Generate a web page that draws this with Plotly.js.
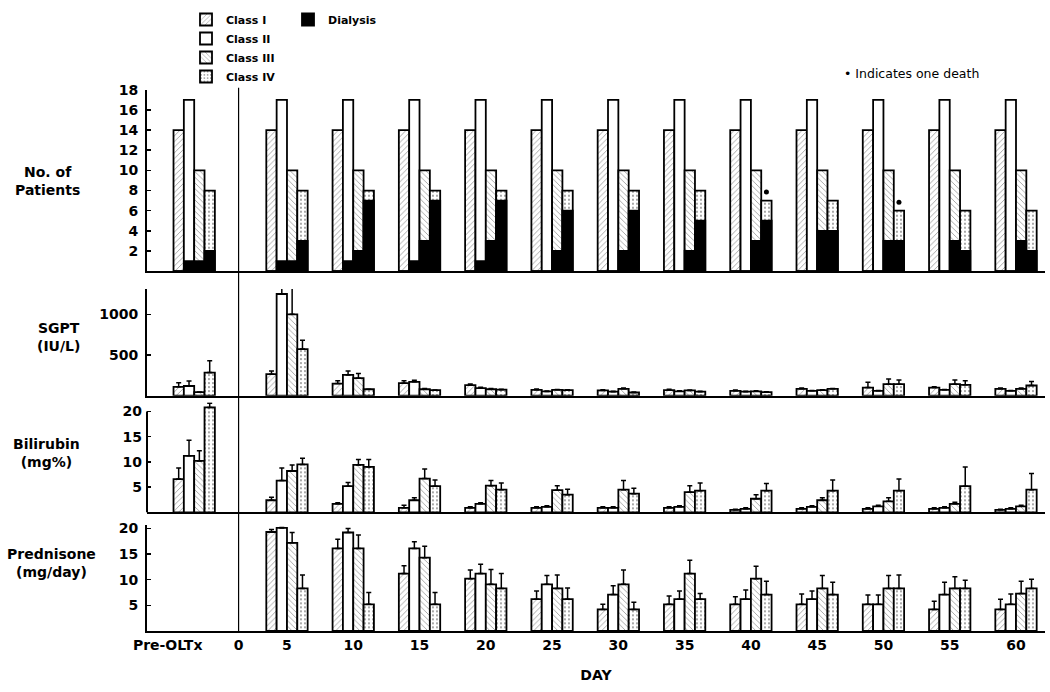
<!DOCTYPE html>
<html><head><meta charset="utf-8">
<script src="https://cdn.plot.ly/plotly-3.0.1.min.js"></script>
<style>html,body{margin:0;padding:0;background:#fff}#chart{width:1050px;height:692px}</style>
</head><body><div id="chart"></div>
<script>
// ---------- DATA ----------
const groups = ["Pre-OLTx","5","10","15","20","25","30","35","40","45","50","55","60"];
const tickLabels = ["Pre-OLTx","0","5","10","15","20","25","30","35","40","45","50","55","60"];
const classNames = ["Class I","Class II","Class III","Class IV"];

// No. of patients per class
const patientsI   = [14,14,14,14,14,14,14,14,14,14,14,14,14];
const patientsII  = [17,17,17,17,17,17,17,17,17,17,17,17,17];
const patientsIII = [10,10,10,10,10,10,10,10,10,10,10,10,10];
const patientsIV  = [8,8,8,8,8,8,8,8,7,7,6,6,6];
// Patients on dialysis per class
const dialysisI   = [0,0,0,0,0,0,0,0,0,0,0,0,0];
const dialysisII  = [1,1,1,1,1,0,0,0,0,0,0,0,0];
const dialysisIII = [1,1,2,3,3,2,2,2,3,4,3,3,3];
const dialysisIV  = [2,3,7,7,7,6,6,5,5,4,3,2,2];
// Deaths (one each) in class IV
const deathGroups = ["40","50"];

// SGPT (IU/L) mean and SD
const sgptI     = [110,265,150,155,130,73,65,70,60,85,101,101,85];
const sgptIsd   = [50,40,33,28,15,10,10,10,10,10,65,10,10];
const sgptII    = [120,1250,256,171,94,53,50,55,50,60,61,73,61];
const sgptIIsd  = [60,130,49,20,10,5,5,5,5,5,5,5,5];
const sgptIII   = [45,1000,216,80,80,73,85,65,55,70,142,142,85];
const sgptIIIsd = [0,380,56,10,10,5,10,5,5,5,65,53,10];
const sgptIV    = [285,573,80,70,75,70,40,50,45,85,142,134,126];
const sgptIVsd  = [145,110,0,0,5,5,5,5,5,5,53,49,49];

// Bilirubin (mg%)
const biliI     = [6.6,2.4,1.7,0.9,0.9,0.9,0.9,0.9,0.5,0.7,0.7,0.7,0.5];
const biliIsd   = [2.2,0.6,0.2,0.5,0.2,0.2,0.2,0.2,0.1,0.2,0.2,0.2,0.1];
const biliII    = [11.2,6.3,5.2,2.4,1.7,1.1,0.9,1.1,0.7,1.1,1.2,0.9,0.7];
const biliIIsd  = [3.1,2.5,0.7,0.5,0.2,0.2,0.2,0.2,0.2,0.2,0.2,0.2,0.2];
const biliIII   = [10.2,8.2,9.4,6.7,5.3,4.4,4.5,4.0,2.7,2.4,2.2,1.7,1.2];
const biliIIIsd = [2.0,1.2,1.1,1.9,1.0,0.9,1.8,1.3,0.8,0.5,0.7,0.3,0.2];
const biliIV    = [20.8,9.5,9.0,5.2,4.5,3.5,3.7,4.3,4.3,4.3,4.3,5.2,4.5];
const biliIVsd  = [0.8,1.2,1.5,1.2,1.3,1.1,1.1,1.5,1.4,2.1,2.3,3.8,3.2];

// Prednisone (mg/day)
const predI     = [null,19.3,16.1,11.2,10.2,6.2,4.2,5.2,5.2,5.2,5.2,4.2,4.2];
const predIsd   = [null,0.5,1.8,1.5,1.7,1.6,1.0,1.6,1.5,2.0,1.8,1.6,2.0];
const predII    = [null,20.1,19.2,16.1,11.2,9.1,7.1,6.2,6.2,6.2,5.2,7.1,5.2];
const predIIsd  = [null,0.1,0.8,1.3,1.8,1.7,1.7,1.6,1.8,1.6,1.8,2.4,2.0];
const predIII   = [null,17.2,16.1,14.3,9.1,8.3,9.1,11.2,10.2,8.3,8.3,8.3,7.3];
const predIIIsd = [null,2.0,2.6,2.2,2.9,2.6,2.8,2.6,2.4,2.5,2.5,2.3,2.4];
const predIV    = [null,8.3,5.2,5.2,8.3,6.2,4.2,6.2,7.1,7.1,8.3,8.3,8.3];
const predIVsd  = [null,2.6,2.3,2.3,2.9,2.2,1.4,1.1,2.6,2.4,2.6,1.6,1.8];

// ---------- LAYOUT HELPERS ----------
const FONT = "DejaVu Sans";
const PRE_POS = -2;          // axis position of the Pre-OLTx group
const PRE_LABEL_POS = -4;    // where the Pre-OLTx label sits
const ZERO_POS = 1.35;       // where the day-0 divider sits
const BAR_W = 0.78;
const pos = g => g === "Pre-OLTx" ? PRE_POS : Number(g);
const tickPos = t => t === "Pre-OLTx" ? PRE_LABEL_POS : (t === "0" ? ZERO_POS : Number(t));
const xs = groups.map(pos);
const offs = [0,1,2,3].map(k => -2*BAR_W + k*BAR_W);

const L = 147, R = 1045, TOP = 10, BOT = 631;
const W = R - L, H = BOT - TOP;
const fx = px => (px - L) / W;
const fy = py => (BOT - py) / H;

const patterns = ["/", "", "\\", "."];
function barMarker(k) {
  return {
    color: "white",
    line: {color: "black", width: 1.8},
    pattern: {shape: patterns[k], fgcolor: "#888", bgcolor: "white", size: 4, solidity: 0.18, fillmode: "replace"}
  };
}

const traces = [];
const patientSeries = [patientsI, patientsII, patientsIII, patientsIV];
const dialSeries = [dialysisI, dialysisII, dialysisIII, dialysisIV];
patientSeries.forEach((vals, k) => {
  traces.push({type: "bar", x: xs, y: vals, name: classNames[k], offset: offs[k], width: BAR_W,
    marker: barMarker(k), xaxis: "x", yaxis: "y", legend: "legend", hoverinfo: "y"});
});
dialSeries.forEach((vals, k) => {
  traces.push({type: "bar", x: xs, y: vals, name: "Dialysis", offset: offs[k], width: BAR_W,
    marker: {color: "black", line: {color: "black", width: 1.8}}, xaxis: "x", yaxis: "y",
    legend: "legend2", showlegend: k === 3, legendgroup: "dial", hoverinfo: "y"});
});
// death dots above class IV bars
traces.push({type: "scatter", mode: "markers",
  x: deathGroups.map(g => pos(g) + offs[3] + BAR_W/2),
  y: deathGroups.map(g => patientsIV[groups.indexOf(g)] + 0.85),
  marker: {color: "black", size: 5}, xaxis: "x", yaxis: "y", showlegend: false, hoverinfo: "skip"});

function addPanel(series, sds, ax, yax) {
  series.forEach((vals, k) => {
    traces.push({type: "bar", x: xs, y: vals, name: classNames[k], offset: offs[k], width: BAR_W,
      marker: barMarker(k), xaxis: ax, yaxis: yax, showlegend: false,
      error_y: {type: "data", symmetric: false, array: sds[k], arrayminus: sds[k].map(() => 0),
        color: "black", thickness: 1.5, width: 2.5}, hoverinfo: "y"});
  });
}
addPanel([sgptI, sgptII, sgptIII, sgptIV], [sgptIsd, sgptIIsd, sgptIIIsd, sgptIVsd], "x2", "y2");
addPanel([biliI, biliII, biliIII, biliIV], [biliIsd, biliIIsd, biliIIIsd, biliIVsd], "x3", "y3");
addPanel([predI, predII, predIII, predIV], [predIsd, predIIsd, predIIIsd, predIVsd], "x4", "y4");

const tickFont = {family: FONT, size: 14, color: "black", weight: "bold"};
const xRange = [(L - 220.7) / 13.255, (R - 220.7) / 13.255];
function xAxis(anchor, showLabels) {
  return {anchor: anchor, domain: [0, 1], range: xRange, showline: true, linecolor: "black", linewidth: 2,
    showgrid: false, zeroline: false, ticks: "", showticklabels: showLabels,
    tickvals: tickLabels.map(tickPos), ticktext: tickLabels, tickfont: tickFont, fixedrange: true};
}
function yAxis(domainPx, range, tickvals, showline) {
  return {anchor: "x", domain: [fy(domainPx[1]), fy(domainPx[0])], range: range, tickvals: tickvals,
    ticks: "inside", ticklen: 4, tickwidth: 1.5, tickcolor: "black", showline: showline !== false,
    linecolor: "black", linewidth: 2, showgrid: false, zeroline: false, tickfont: tickFont,
    ticklabelstandoff: 4, fixedrange: true};
}

const layout = {
  width: 1050, height: 692,
  margin: {l: L, r: 1050 - R, t: TOP, b: 692 - BOT},
  paper_bgcolor: "white", plot_bgcolor: "rgba(0,0,0,0)",
  font: {family: FONT, color: "black"},
  barmode: "overlay",
  xaxis: xAxis("y", false),
  xaxis2: Object.assign(xAxis("y2", false), {matches: "x"}),
  xaxis3: Object.assign(xAxis("y3", false), {matches: "x"}),
  xaxis4: Object.assign(xAxis("y4", true), {matches: "x",
    title: {text: "DAY", font: {family: FONT, size: 14, color: "black", weight: "bold"}, standoff: 18}}),
  yaxis: yAxis([88, 270], [0, 18], [2,4,6,8,10,12,14,16,18]),
  yaxis2: Object.assign(yAxis([288, 395], [0, 1310], [500, 1000]), {anchor: "x2"}),
  yaxis3: Object.assign(yAxis([401.6, 512], [0, 21.8], [5, 10, 15, 20], false), {anchor: "x3"}),
  yaxis4: Object.assign(yAxis([525, 631], [0, 20.6], [5, 10, 15, 20]), {anchor: "x4"}),
  legend: {x: fx(186), y: fy(3), xanchor: "left", yanchor: "top", bgcolor: "rgba(0,0,0,0)",
    font: {family: FONT, size: 11, color: "black", weight: "bold"}, tracegroupgap: 0, itemwidth: 30},
  legend2: {x: fx(288), y: fy(3), xanchor: "left", yanchor: "top", bgcolor: "rgba(0,0,0,0)",
    font: {family: FONT, size: 11, color: "black", weight: "bold"}, itemwidth: 30},
  shapes: [
    {type: "line", xref: "x", yref: "paper", x0: ZERO_POS, x1: ZERO_POS, y0: 0, y1: fy(86),
      line: {color: "black", width: 1.2}},
    {type: "line", xref: "paper", yref: "y3", x0: 0, x1: 0, y0: 0, y1: 20,
      line: {color: "black", width: 2}}
  ],
  annotations: [
    {text: "No. of<br>Patients", x: fx(47), y: fy(180)},
    {text: "SGPT<br>(IU/L)", x: fx(58), y: fy(336)},
    {text: "Bilirubin<br>(mg%)", x: fx(46), y: fy(452)},
    {text: "Prednisone<br>(mg/day)", x: fx(51), y: fy(563)}
  ].map(a => Object.assign(a, {xref: "paper", yref: "paper", showarrow: false, align: "center",
    xanchor: "center", yanchor: "middle", font: {family: FONT, size: 14, color: "black", weight: "bold"}}))
  .concat([{text: "• Indicates one death", x: fx(911), y: fy(72), xref: "paper", yref: "paper",
    showarrow: false, xanchor: "center", yanchor: "middle", font: {family: FONT, size: 12.5, color: "black"}}])
};

Plotly.newPlot("chart", traces, layout, {displayModeBar: false, staticPlot: true});
</script>
</body></html>
